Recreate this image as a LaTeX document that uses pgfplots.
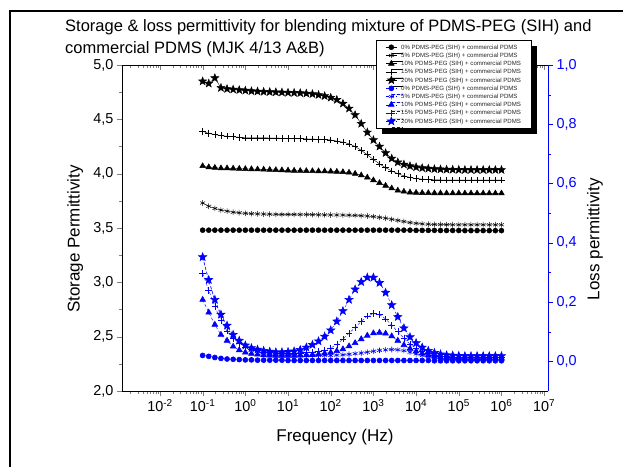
\documentclass[border=0pt]{standalone}
\usepackage{fontspec}
\setmainfont{Liberation Sans}
\usepackage{pgfplots}
\usepackage{pgfplotstable}
\pgfplotsset{compat=1.18}
\usetikzlibrary{shadows}

% filled five-pointed star
\pgfdeclareplotmark{fstar}{%
  \pgfpathmoveto{\pgfpointpolar{90}{\pgfplotmarksize}}%
  \pgfpathlineto{\pgfpointpolar{126}{0.42\pgfplotmarksize}}%
  \pgfpathlineto{\pgfpointpolar{162}{\pgfplotmarksize}}%
  \pgfpathlineto{\pgfpointpolar{198}{0.42\pgfplotmarksize}}%
  \pgfpathlineto{\pgfpointpolar{234}{\pgfplotmarksize}}%
  \pgfpathlineto{\pgfpointpolar{270}{0.42\pgfplotmarksize}}%
  \pgfpathlineto{\pgfpointpolar{306}{\pgfplotmarksize}}%
  \pgfpathlineto{\pgfpointpolar{342}{0.42\pgfplotmarksize}}%
  \pgfpathlineto{\pgfpointpolar{18}{\pgfplotmarksize}}%
  \pgfpathlineto{\pgfpointpolar{54}{0.42\pgfplotmarksize}}%
  \pgfpathclose
  \pgfusepathqfillstroke}

% f (Hz), storage (b..) and loss (l..) permittivity for 0/5/10/15/20 %
\pgfplotstableread{
f        b0    b5    b10   b15   b20   l0    l5    l10   l15   l20
1.000e-1 3.48  3.73  4.07  4.39  4.85  0.020 0.350 0.208 0.297 0.352
1.389e-1 3.48  3.70  4.06  4.37  4.83  0.017 0.272 0.165 0.240 0.275
1.931e-1 3.48  3.68  4.055 4.36  4.88  0.013 0.204 0.124 0.185 0.208
2.683e-1 3.48  3.665 4.05  4.35  4.79  0.010 0.154 0.090 0.137 0.158
3.728e-1 3.48  3.655 4.05  4.345 4.78  0.008 0.117 0.070 0.102 0.121
5.179e-1 3.48  3.645 4.048 4.34  4.775 0.007 0.088 0.050 0.078 0.090
7.197e-1 3.48  3.64  4.046 4.335 4.77  0.006 0.068 0.038 0.061 0.070
1.000e0  3.48  3.635 4.044 4.33  4.765 0.005 0.053 0.030 0.049 0.054
1.389e0  3.48  3.632 4.042 4.33  4.76  0.005 0.043 0.026 0.041 0.045
1.931e0  3.48  3.63  4.04  4.33  4.757 0.004 0.037 0.023 0.036 0.040
2.683e0  3.48  3.628 4.038 4.33  4.754 0.004 0.033 0.021 0.032 0.036
3.728e0  3.48  3.627 4.036 4.328 4.752 0.004 0.030 0.020 0.030 0.033
5.179e0  3.48  3.626 4.034 4.327 4.75  0.004 0.028 0.019 0.028 0.031
7.197e0  3.48  3.625 4.032 4.326 4.748 0.004 0.026 0.019 0.027 0.031
1.000e1  3.48  3.625 4.03  4.325 4.746 0.003 0.024 0.019 0.027 0.032
1.389e1  3.48  3.625 4.028 4.323 4.744 0.003 0.022 0.019 0.027 0.034
1.931e1  3.48  3.624 4.026 4.322 4.742 0.003 0.021 0.020 0.028 0.039
2.683e1  3.48  3.624 4.025 4.32  4.738 0.003 0.020 0.021 0.029 0.047
3.728e1  3.48  3.623 4.024 4.318 4.733 0.003 0.020 0.022 0.031 0.056
5.179e1  3.48  3.622 4.023 4.316 4.725 0.003 0.020 0.024 0.034 0.068
7.197e1  3.48  3.621 4.022 4.313 4.715 0.003 0.020 0.027 0.039 0.084
1.000e2  3.48  3.62  4.02  4.31  4.70  0.003 0.020 0.030 0.045 0.105
1.389e2  3.48  3.62  4.018 4.30  4.68  0.003 0.021 0.035 0.057 0.135
1.931e2  3.48  3.619 4.015 4.29  4.645 0.003 0.022 0.041 0.075 0.170
2.683e2  3.48  3.618 4.01  4.275 4.60  0.003 0.024 0.051 0.095 0.208
3.728e2  3.48  3.616 4.00  4.25  4.54  0.003 0.026 0.062 0.114 0.243
5.179e2  3.48  3.613 3.985 4.215 4.46  0.003 0.028 0.075 0.135 0.268
7.197e2  3.48  3.61  3.965 4.175 4.38  0.003 0.031 0.087 0.153 0.283
1.000e3  3.48  3.605 3.94  4.13  4.31  0.003 0.034 0.095 0.161 0.283
1.389e3  3.48  3.598 3.915 4.09  4.25  0.003 0.037 0.097 0.158 0.265
1.931e3  3.48  3.59  3.89  4.055 4.19  0.003 0.039 0.094 0.143 0.232
2.683e3  3.48  3.58  3.865 4.025 4.14  0.003 0.040 0.085 0.122 0.190
3.728e3  3.48  3.57  3.845 4.00  4.105 0.003 0.039 0.070 0.100 0.150
5.179e3  3.48  3.56  3.835 3.98  4.085 0.003 0.036 0.055 0.078 0.112
7.197e3  3.48  3.55  3.828 3.965 4.07  0.003 0.031 0.043 0.058 0.082
1.000e4  3.478 3.543 3.825 3.955 4.06  0.003 0.025 0.034 0.044 0.062
1.389e4  3.478 3.538 3.823 3.95  4.052 0.003 0.020 0.027 0.034 0.047
1.931e4  3.478 3.535 3.822 3.946 4.047 0.003 0.016 0.021 0.027 0.036
2.683e4  3.478 3.533 3.821 3.944 4.043 0.002 0.013 0.017 0.022 0.029
3.728e4  3.477 3.532 3.82  3.942 4.04  0.002 0.011 0.014 0.018 0.024
5.179e4  3.477 3.531 3.82  3.941 4.038 0.002 0.010 0.012 0.016 0.021
7.197e4  3.477 3.53  3.82  3.94  4.037 0.002 0.009 0.011 0.015 0.020
1.000e5  3.477 3.53  3.82  3.94  4.036 0.002 0.009 0.010 0.014 0.019
1.389e5  3.476 3.53  3.819 3.94  4.035 0.002 0.008 0.010 0.013 0.018
1.931e5  3.476 3.53  3.819 3.94  4.035 0.002 0.008 0.010 0.013 0.018
2.683e5  3.476 3.53  3.819 3.94  4.035 0.002 0.008 0.010 0.013 0.018
3.728e5  3.476 3.53  3.819 3.94  4.035 0.002 0.008 0.010 0.013 0.018
5.179e5  3.476 3.53  3.819 3.94  4.035 0.002 0.008 0.010 0.013 0.018
7.197e5  3.476 3.53  3.819 3.94  4.035 0.002 0.008 0.010 0.013 0.018
1.000e6  3.476 3.53  3.819 3.94  4.035 0.002 0.008 0.010 0.013 0.018
}\data

\def\minorlist{2e-3,3e-3,4e-3,5e-3,6e-3,7e-3,8e-3,9e-3,
  2e-2,3e-2,4e-2,5e-2,6e-2,7e-2,8e-2,9e-2,
  2e-1,3e-1,4e-1,5e-1,6e-1,7e-1,8e-1,9e-1,
  2,3,4,5,6,7,8,9,
  20,30,40,50,60,70,80,90,
  200,300,400,500,600,700,800,900,
  2e3,3e3,4e3,5e3,6e3,7e3,8e3,9e3,
  2e4,3e4,4e4,5e4,6e4,7e4,8e4,9e4,
  2e5,3e5,4e5,5e5,6e5,7e5,8e5,9e5,
  2e6,3e6,4e6,5e6,6e6,7e6,8e6,9e6}

\pgfplotsset{
  /pgf/number format/assume math mode=true,
  blkser/.style={black, line width=0.4pt, mark options={solid, black, line width=0.5pt}},
  bluser/.style={blue, line width=0.4pt, densely dashed, mark options={solid, blue, line width=0.6pt}},
}

\begin{document}
\begin{tikzpicture}
\path[use as bounding box] (-122pt,-75pt) rectangle (501pt,391pt);

% frame and title
\draw[line width=1.3pt] (-112pt,-80pt) -- (-112pt,380pt) -- (510pt,380pt);
\node[anchor=base west, inner sep=0pt, font=\fontsize{16.5}{18}\selectfont]
  at (-57pt,359pt) {Storage \& loss permittivity for blending mixture of PDMS-PEG (SIH) and};
\node[anchor=base west, inner sep=0pt, font=\fontsize{16.5}{18}\selectfont]
  at (-57pt,337pt) {commercial PDMS (MJK 4/13 A\&B)};

% storage permittivity, left axis
\begin{axis}[
  xmode=log, scale only axis, width=426pt, height=326pt,
  at={(0pt,0pt)}, anchor=south west,
  xmin=1.29e-3, xmax=1.23e7,
  major tick length=5pt, minor tick length=3pt,
  tick label style={font=\fontsize{14.4}{16}\selectfont},
  axis line style={line width=0.9pt},
  axis x line*=bottom, axis y line*=left, tick align=outside,
  xtick={1e-2,1e-1,1,10,100,1e3,1e4,1e5,1e6,1e7},
  minor xtick/.expand once=\minorlist,
  xticklabels={10\textsuperscript{-2},10\textsuperscript{-1},10\textsuperscript{0},
    10\textsuperscript{1},10\textsuperscript{2},10\textsuperscript{3},
    10\textsuperscript{4},10\textsuperscript{5},10\textsuperscript{6},10\textsuperscript{7}},
  ymin=2, ymax=5, ytick={2,2.5,3,3.5,4,4.5,5}, minor y tick num=1,
  yticklabel style={/pgf/number format/.cd, use comma, fixed, fixed zerofill, precision=1},
  xlabel={Frequency (Hz)}, ylabel={Storage Permittivity},
  every axis x label/.style={at={(axis description cs:0.5,-0.141)}, anchor=center,
    font=\fontsize{17}{19}\selectfont},
  every axis y label/.style={at={(axis description cs:-0.110,0.466)}, anchor=center,
    rotate=90, font=\fontsize{17}{19}\selectfont},
]
\addplot[blkser, mark=*, mark size=2.5pt] table[x=f, y=b0] {\data};
\addplot[blkser, mark=asterisk, mark size=2.8pt] table[x=f, y=b5] {\data};
\addplot[blkser, mark=triangle*, mark size=3.3pt] table[x=f, y=b10] {\data};
\addplot[blkser, mark=+, mark size=3.3pt] table[x=f, y=b15] {\data};
\addplot[blkser, mark=fstar, mark size=4.2pt] table[x=f, y=b20] {\data};
\end{axis}

% top axis, ticks pointing in
\begin{axis}[
  xmode=log, scale only axis, width=426pt, height=326pt,
  at={(0pt,0pt)}, anchor=south west,
  xmin=1.29e-3, xmax=1.23e7, ymin=0, ymax=1,
  major tick length=5pt, minor tick length=3pt,
  axis line style={line width=0.9pt},
  axis x line*=top, axis y line=none, tick align=inside,
  xtick={1e-2,1e-1,1,10,100,1e3,1e4,1e5,1e6,1e7},
  minor xtick/.expand once=\minorlist,
  xticklabels={},
]
\end{axis}

% loss permittivity, right axis
\begin{axis}[
  xmode=log, scale only axis, width=426pt, height=326pt,
  at={(0pt,0pt)}, anchor=south west,
  xmin=1.29e-3, xmax=1.23e7,
  major tick length=5pt, minor tick length=3pt,
  tick label style={font=\fontsize{14.4}{16}\selectfont},
  axis line style={line width=0.9pt},
  axis x line=none, axis y line*=right, tick align=outside,
  ymin=-0.1, ymax=1, ytick={0,0.2,0.4,0.6,0.8,1}, minor y tick num=1,
  y axis line style={blue}, tick style={blue},
  yticklabel style={blue, /pgf/number format/.cd, use comma, fixed, fixed zerofill, precision=1},
  ylabel={Loss permittivity},
  every axis y label/.style={at={(axis description cs:1.110,0.466)}, anchor=center,
    rotate=90, font=\fontsize{17}{19}\selectfont},
  legend image code/.code={\draw[mark repeat=2,mark phase=2,#1]
    plot coordinates {(0pt,0pt) (5.5pt,0pt) (11pt,0pt)};},
  legend cell align=left,
  legend style={at={(axis description cs:0.596,1.077)}, anchor=north west,
    font=\fontsize{6.1}{7}\selectfont, text=black!85,
    draw=black, line width=0.5pt, fill=white,
    inner xsep=9.5pt, inner ysep=3pt, row sep=0pt, column sep=3.5pt,
    nodes={inner sep=0.6pt, text height=5.4pt, text depth=1.6pt},
    drop shadow={shadow xshift=6pt, shadow yshift=-6pt, fill=black, opacity=1}},
]
\addlegendimage{blkser, mark=*, mark size=2.5pt}
\addlegendentry{0\% PDMS-PEG (SIH) + commercial PDMS}
\addlegendimage{blkser, mark=asterisk, mark size=2.8pt}
\addlegendentry{5\% PDMS-PEG (SIH) + commercial PDMS}
\addlegendimage{blkser, mark=triangle*, mark size=3.3pt}
\addlegendentry{10\% PDMS-PEG (SIH) + commercial PDMS}
\addlegendimage{blkser, mark=+, mark size=3.3pt}
\addlegendentry{15\% PDMS-PEG (SIH) + commercial PDMS}
\addlegendimage{blkser, mark=fstar, mark size=4.2pt}
\addlegendentry{20\% PDMS-PEG (SIH) + commercial PDMS}
\addplot[bluser, mark=*, mark size=2.5pt] table[x=f, y=l0] {\data};
\addlegendentry{0\% PDMS-PEG (SIH) + commercial PDMS}
\addplot[bluser, mark=asterisk, mark size=2.8pt] table[x=f, y=l5] {\data};
\addlegendentry{5\% PDMS-PEG (SIH) + commercial PDMS}
\addplot[bluser, mark=triangle*, mark size=3.3pt] table[x=f, y=l10] {\data};
\addlegendentry{10\% PDMS-PEG (SIH) + commercial PDMS}
\addplot[bluser, mark=+, mark size=3.3pt] table[x=f, y=l15] {\data};
\addlegendentry{15\% PDMS-PEG (SIH) + commercial PDMS}
\addplot[bluser, mark=fstar, mark size=4.2pt] table[x=f, y=l20] {\data};
\addlegendentry{20\% PDMS-PEG (SIH) + commercial PDMS}
\end{axis}
\end{tikzpicture}
\end{document}
